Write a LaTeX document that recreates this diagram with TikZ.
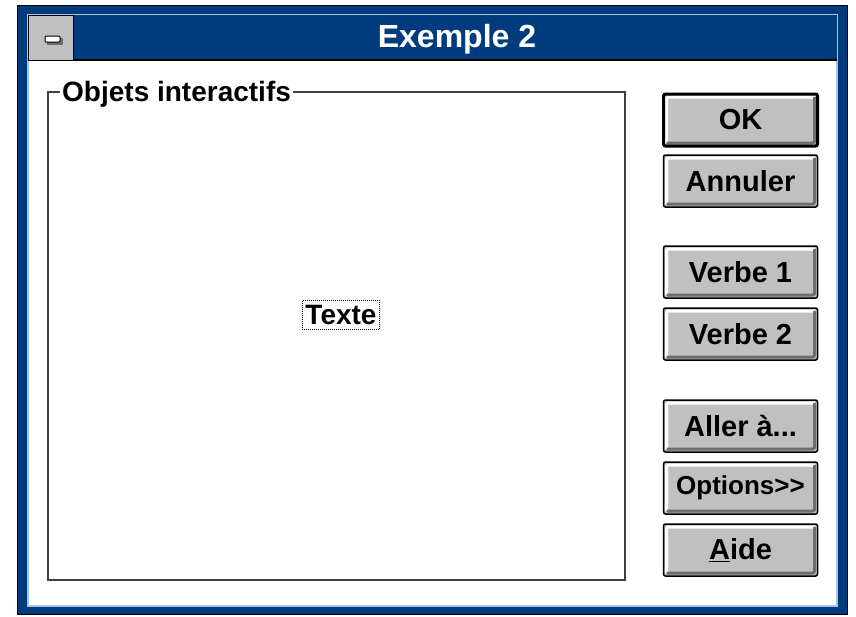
\documentclass[tikz,border=0pt]{standalone}
\usepackage{fontspec}
\setmainfont{Liberation Sans}

\definecolor{bleu}{RGB}{0,60,125}
\definecolor{bleuclair}{RGB}{170,195,225}
\definecolor{gris}{RGB}{192,192,192}
\definecolor{grisfonce}{RGB}{110,110,110}

\begin{document}
\begin{tikzpicture}[x=1pt, y=-1pt,
  bouton/.style={draw=black, line width=1.5pt, rounded corners=2pt, fill=gris,
    minimum width=154pt, minimum height=52pt, inner sep=0pt,
    font=\fontsize{29}{32}\selectfont\bfseries,
    path picture={
      \draw[white, line width=3pt] ([shift={(3pt,3pt)}]path picture bounding box.south west)
        |- ([shift={(-3pt,-3pt)}]path picture bounding box.north east);
      \draw[grisfonce, line width=3pt] ([shift={(3pt,3pt)}]path picture bounding box.south west)
        -| ([shift={(-3pt,-3pt)}]path picture bounding box.north east);
    }},
  defaut/.style={bouton, line width=3pt}]
  \useasboundingbox[fill=white] (0,0) rectangle (856,616);

  % cadre de la fenetre
  \draw[fill=bleu, line width=1pt] (17,5) rectangle (847,614);
  \draw[fill=white, draw=bleuclair, line width=1.5pt] (28,15) rectangle (837,606);

  % barre de titre
  \fill[bleu] (28,15) rectangle (837,60);
  \draw[line width=1.5pt] (28,60) -- (837,60);
  \draw[fill=gris] (28,15) rectangle (73,60);
  \draw[fill=grisfonce, draw=none] (47,38) rectangle (63,45);
  \draw[fill=white, line width=1pt, rounded corners=1pt] (45,36) rectangle (60,42);
  \node[text=white, font=\fontsize{32}{34}\selectfont\bfseries] (titre) at (457,39) {Exemple 2};

  % zone des objets
  \draw[black!75, line width=2pt] (48,92) rectangle (625,580);
  \node[fill=white, anchor=base west, inner xsep=2pt, inner ysep=0pt,
    font=\fontsize{28}{30}\selectfont\bfseries] (objets) at (60,101) {Objets interactifs};
  \node[draw, densely dotted, line width=1pt, inner xsep=3pt, inner ysep=5pt,
    font=\fontsize{28}{30}\selectfont\bfseries] (texte) at (341,315) {Texte};

  % boutons
  \node[defaut] (ok) at (740.5,120) {OK};
  \node[bouton] (annuler) at (740.5,181) {Annuler};
  \node[bouton] (verbe1) at (740.5,272) {Verbe 1};
  \node[bouton] (verbe2) at (740.5,334) {Verbe 2};
  \node[bouton] (aller) at (740.5,426) {Aller à...};
  \node[bouton, font=\fontsize{26}{30}\selectfont\bfseries] (options) at (740.5,488) {Options>\kern0pt>};
  \node[bouton] (aide) at (740.5,550) {\underline{A}ide};
\end{tikzpicture}
\end{document}
